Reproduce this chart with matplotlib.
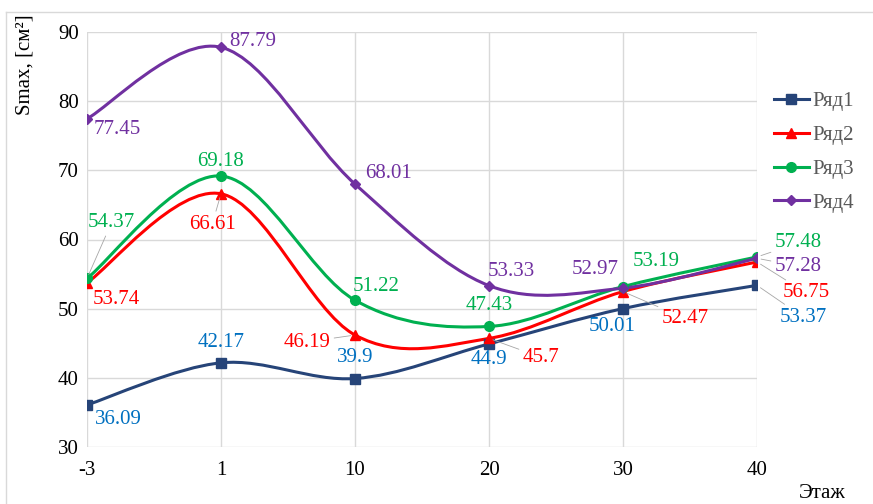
import matplotlib
matplotlib.use('Agg')
import matplotlib.pyplot as plt
from matplotlib.path import Path
from matplotlib.patches import PathPatch
from matplotlib.lines import Line2D

floors = ['-3', '1', '10', '20', '30', '40']
row1 = [36.09, 42.17, 39.9, 44.9, 50.01, 53.37]
row2 = [53.74, 66.61, 46.19, 45.7, 52.47, 56.75]
row3 = [54.37, 69.18, 51.22, 47.43, 53.19, 57.48]
row4 = [77.45, 87.79, 68.01, 53.33, 52.97, 57.28]
names = ['Ряд1', 'Ряд2', 'Ряд3', 'Ряд4']

line_colors = ['#264478', '#FF0000', '#00B050', '#7030A0']
label_colors = ['#0070C0', '#FF0000', '#00B050', '#7030A0']
markers = ['s', '^', 'o', 'D']
msizes = [7.5, 7.5, 7, 5.5]

# label placement: (dx, dy) in pixels, ha, leader line
label_pos = [
    [(8, -15, 'left', 0), (0, 20, 'center', 0), (0, 21, 'center', 0),
     (0, -16, 'center', 0), (-11, -18, 'center', 0), (23, -32, 'left', 1)],
    [(6, -17, 'left', 0), (-9, -31, 'center', 1), (-25, -7, 'right', 1),
     (34, -19, 'left', 1), (39, -27, 'left', 1), (26, -31, 'left', 1)],
    [(1, 56, 'left', 1), (0, 15, 'center', 0), (-2, 14, 'left', 0),
     (0, 21, 'center', 0), (10, 25, 'left', 0), (18, 14, 'left', 1)],
    [(7, -11, 'left', 0), (8, 6, 'left', 0), (10, 11, 'left', 0),
     (-1, 14, 'left', 0), (-4, 19, 'right', 0), (18, -8, 'left', 1)],
]


def smooth_path(xs, ys):
    # Catmull-Rom style bezier like the spreadsheet "smoothed line"
    n = len(xs)
    verts = [(xs[0], ys[0])]
    codes = [Path.MOVETO]
    for i in range(n - 1):
        i0 = max(i - 1, 0)
        i3 = min(i + 2, n - 1)
        c1 = (xs[i] + (xs[i + 1] - xs[i0]) / 6.0, ys[i] + (ys[i + 1] - ys[i0]) / 6.0)
        c2 = (xs[i + 1] - (xs[i3] - xs[i]) / 6.0, ys[i + 1] - (ys[i3] - ys[i]) / 6.0)
        verts += [c1, c2, (xs[i + 1], ys[i + 1])]
        codes += [Path.CURVE4] * 3
    return Path(verts, codes)


plt.rcParams['font.family'] = ['Liberation Serif', 'DejaVu Serif']

fig = plt.figure(figsize=(8.73, 5.04), dpi=100)
ax = fig.add_axes([87 / 873, 1 - 447 / 504, (757 - 87) / 873, (447 - 32) / 504])

x = list(range(len(floors)))
series = [row1, row2, row3, row4]

for k, ys in enumerate(series):
    patch = PathPatch(smooth_path(x, ys), facecolor='none', edgecolor=line_colors[k],
                      lw=2.2, zorder=3, capstyle='round')
    ax.add_patch(patch)
    ax.plot(x, ys, linestyle='none', marker=markers[k], ms=msizes[k],
            color=line_colors[k], zorder=4)

for k, ys in enumerate(series):
    for i, v in enumerate(ys):
        dx, dy, ha, lead = label_pos[k][i]
        txt = ('%.2f' % v).rstrip('0').rstrip('.')
        arrow = None
        if lead:
            arrow = dict(arrowstyle='-', color='#A6A6A6', lw=0.6, shrinkA=1, shrinkB=3)
        ax.annotate(txt, (i, v), xytext=(dx, dy), textcoords='offset pixels',
                    ha=ha, va='center', fontsize=15, color=label_colors[k],
                    arrowprops=arrow, zorder=5)

ax.set_xlim(0, len(floors) - 1)
ax.set_ylim(30, 90)
ax.set_yticks(range(30, 91, 10))
ax.set_xticks(x)
ax.set_xticklabels(floors)
ax.grid(True, color='#D9D9D9', lw=1)
ax.set_axisbelow(True)
for s in ax.spines.values():
    s.set_visible(False)
ax.tick_params(length=0, labelsize=15, pad=6)
ax.tick_params(axis='x', pad=10)

fig.text(25 / 873, 1 - 65 / 504, 'Smax, [см²]', rotation=90, ha='center', va='center',
         fontsize=15)
fig.text(822 / 873, 1 - 493 / 504, 'Этаж', ha='center', va='center', fontsize=15)

handles = [Line2D([], [], color=line_colors[k], lw=2.2, marker=markers[k], ms=msizes[k])
           for k in range(4)]
fig.legend(handles, names, loc='upper left', bbox_to_anchor=(755 / 873, 1 - 73 / 504),
           frameon=False, fontsize=15, handlelength=1.7, handletextpad=0.15,
           labelspacing=0.68, labelcolor='#595959')

# light outer frame of the chart area
fig.add_artist(Line2D([6 / 873, 6 / 873], [1 - 12 / 504, 0], color='#D9D9D9', lw=1))
fig.add_artist(Line2D([6 / 873, 1], [1 - 12 / 504, 1 - 12 / 504], color='#D9D9D9', lw=1))

fig.savefig('out.png', dpi=100)
